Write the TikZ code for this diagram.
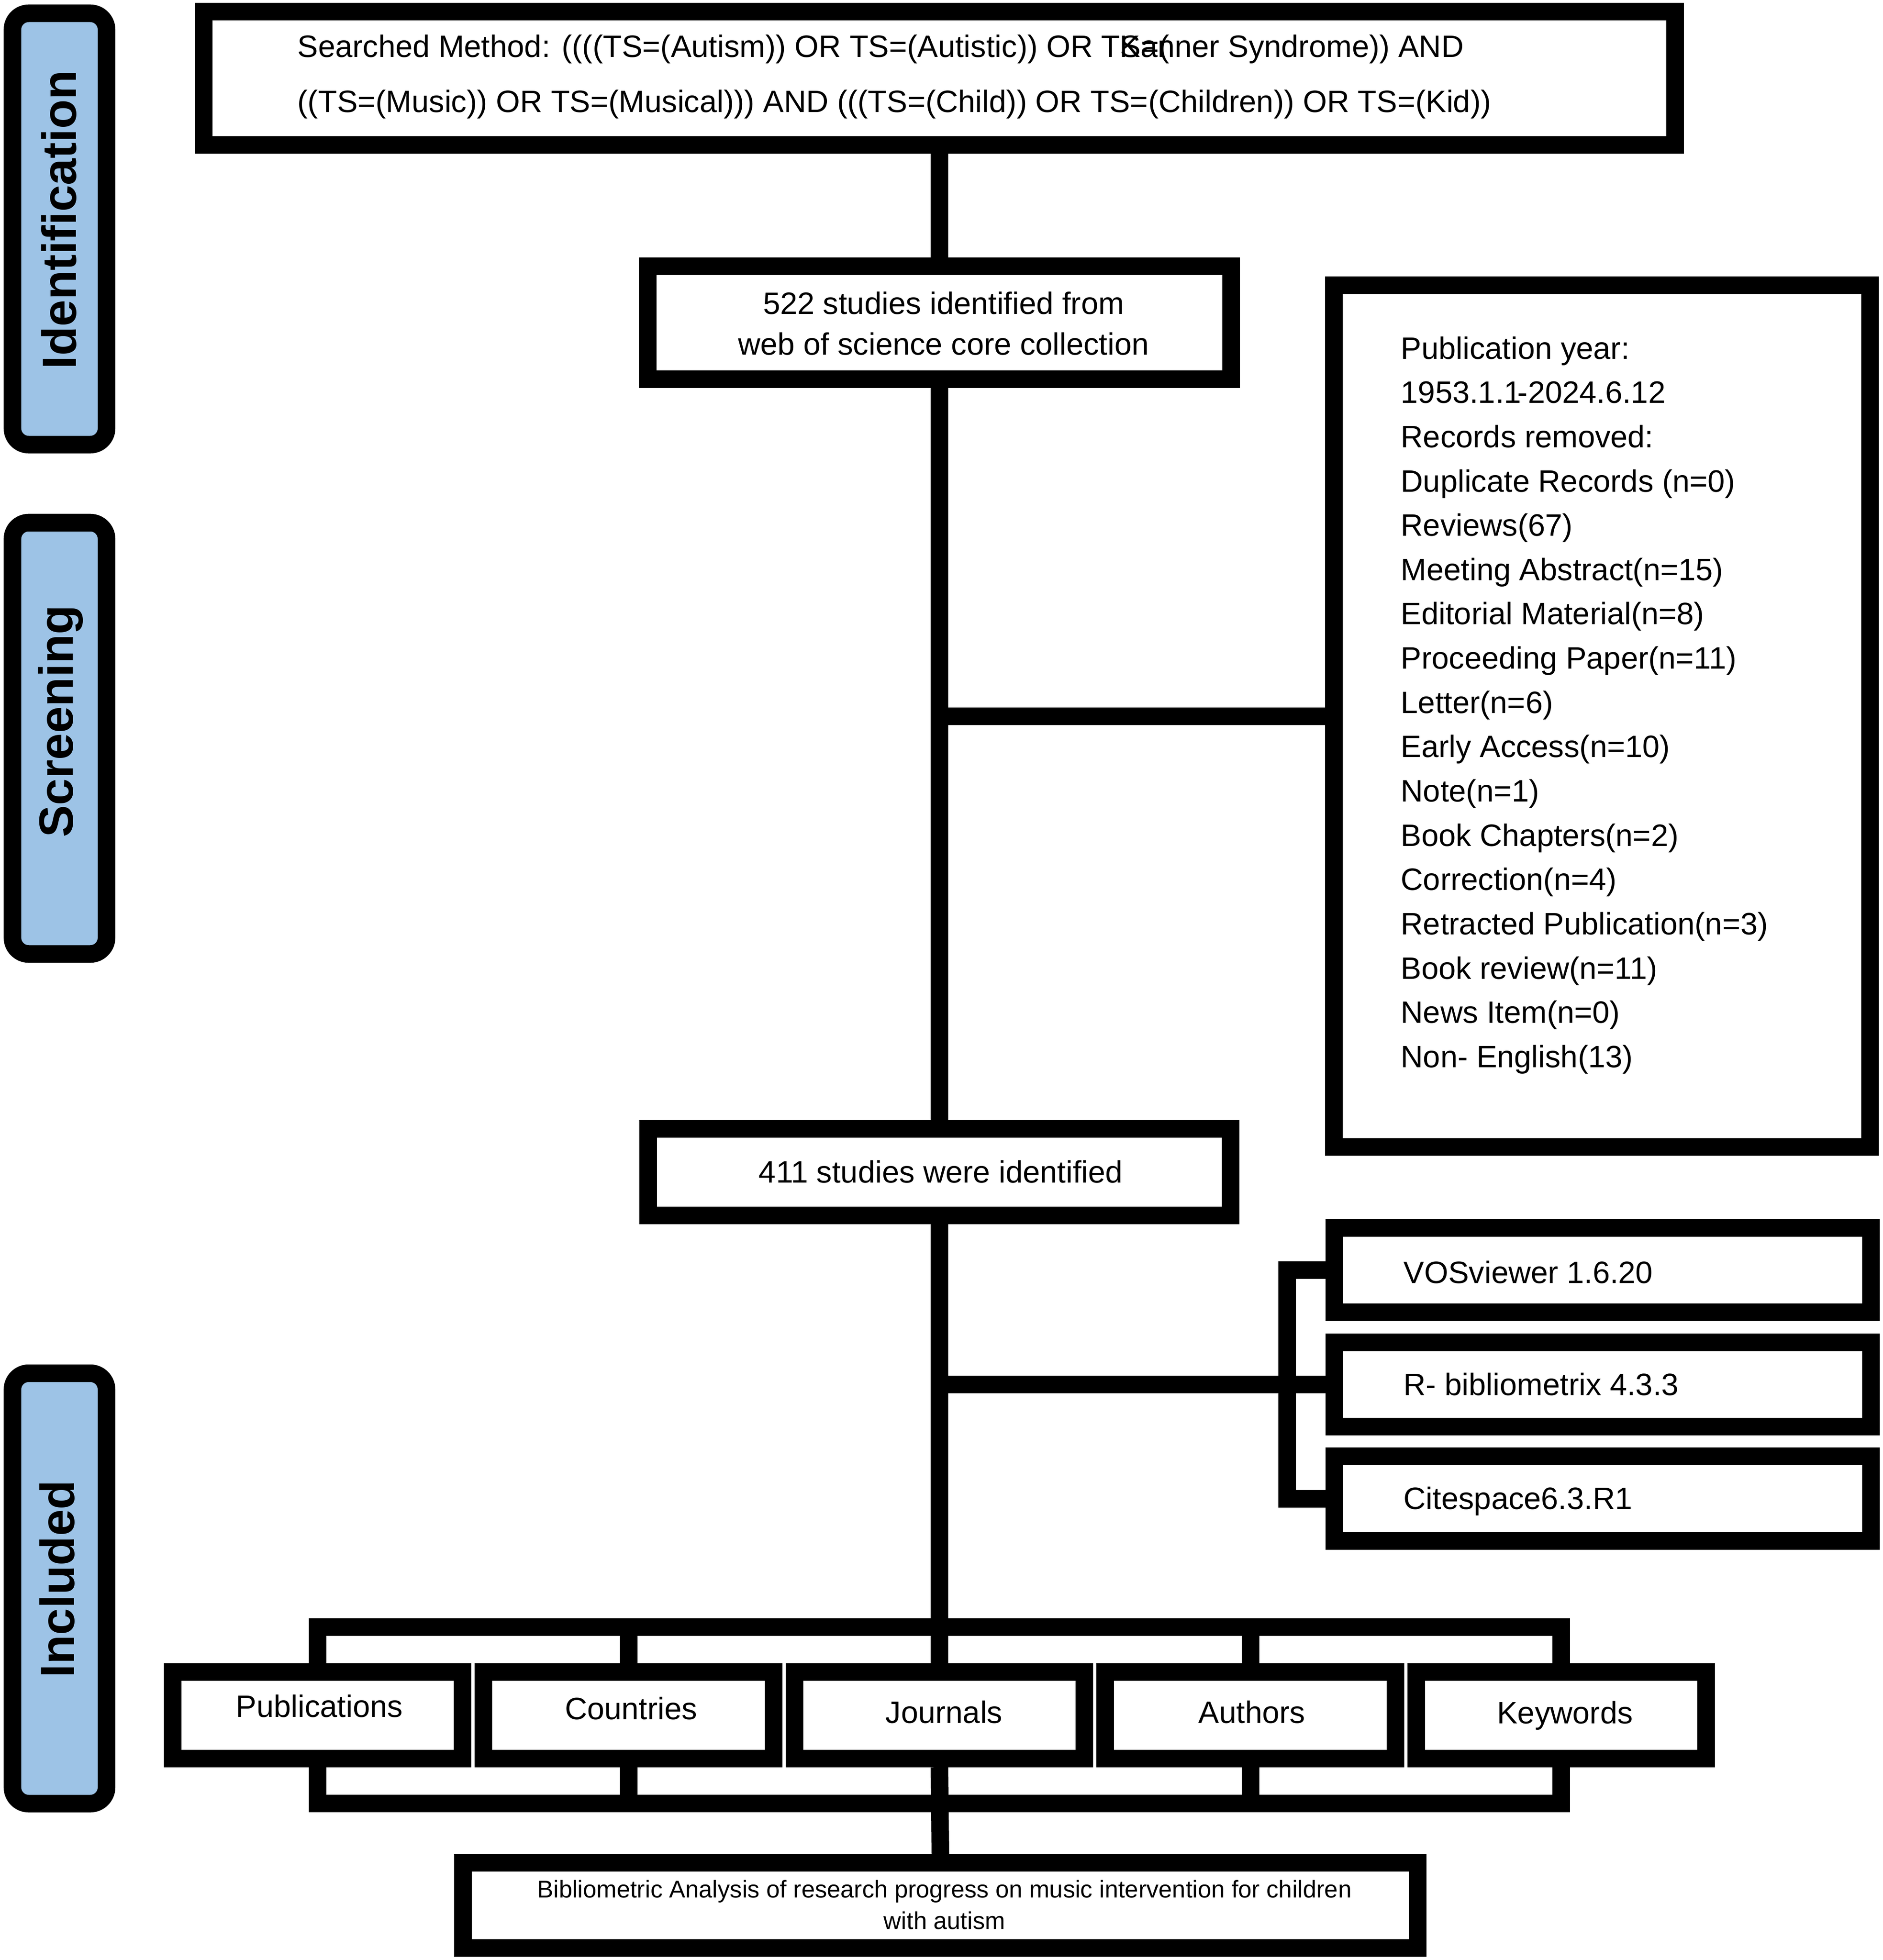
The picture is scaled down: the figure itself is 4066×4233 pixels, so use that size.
\documentclass[tikz,border=0pt]{standalone}
\usepackage{fontspec}
\setmainfont{Liberation Sans}
\definecolor{sideblue}{RGB}{157,195,230}
\begin{document}
\begin{tikzpicture}[x=0.01cm,y=-0.01cm,
  box/.style={draw=black, line width=0.38cm, fill=white, inner sep=0pt, rectangle},
  side/.style={draw=black, line width=0.38cm, fill=sideblue, rounded corners=0.35cm, inner sep=0pt, rectangle},
  conn/.style={draw=black, line width=0.38cm},
  txt/.style={inner sep=0pt, font=\fontsize{19}{25}\selectfont},
  sidetxt/.style={rotate=90, inner sep=0pt, font=\fontsize{29.5}{32}\selectfont\bfseries}
]
\useasboundingbox (0,0) rectangle (4066,4233);

% side stage boxes
\node[side, minimum width=2.03cm, minimum height=9.31cm] (idbox) at (128.5,494.5) {};
\node[side, minimum width=2.03cm, minimum height=9.31cm] (scbox) at (128.5,1594.5) {};
\node[side, minimum width=2.03cm, minimum height=9.29cm] (inbox) at (128.5,3430.5) {};
\node[sidetxt] (idtxt) at (127,475) {Identification};
\node[sidetxt] (sctxt) at (131,1558) {Screening};
\node[sidetxt] (intxt) at (123,3410) {Included};

% main boxes
\node[box, minimum width=31.77cm, minimum height=2.88cm] (search) at (2029,169) {};
\node[box, minimum width=12.59cm, minimum height=2.44cm] (s522) at (2029,697) {};
\node[box, minimum width=12.57cm, minimum height=1.87cm] (s411) at (2029,2531.5) {};
\node[box, minimum width=11.58cm, minimum height=18.59cm] (list) at (3460,1546.5) {};
\node[box, minimum width=11.59cm, minimum height=1.82cm] (vos) at (3461.5,2743) {};
\node[box, minimum width=11.59cm, minimum height=1.82cm] (rbib) at (3461.5,2990) {};
\node[box, minimum width=11.59cm, minimum height=1.82cm] (cite) at (3461.5,3236.5) {};
\node[box, minimum width=6.26cm, minimum height=1.87cm] (pub) at (686,3704.5) {};
\node[box, minimum width=6.26cm, minimum height=1.87cm] (cou) at (1357.5,3704.5) {};
\node[box, minimum width=6.26cm, minimum height=1.87cm] (jou) at (2029,3704.5) {};
\node[box, minimum width=6.26cm, minimum height=1.87cm] (aut) at (2700.5,3704.5) {};
\node[box, minimum width=6.26cm, minimum height=1.87cm] (key) at (3372,3704.5) {};
\node[box, minimum width=20.60cm, minimum height=1.84cm] (final) at (2031,4115) {};

% texts
\node[txt, anchor=west, align=left, font=\fontsize{19}{33.8}\selectfont] (searchtxt) at (642,166)
  {Searched Method: ((((TS=(Autism)) OR TS=(Autistic)) OR TS=(\kern-1.6emKanner Syndrome)) AND\\((TS=(Music)) OR TS=(Musical))) AND (((TS=(Child)) OR TS=(Children)) OR TS=(Kid))};
\node[txt, align=center] (t522) at (2038,699) {522 studies identified from\\web of science core collection};
\node[txt] (t411) at (2032,2531) {411 studies were identified};
\node[txt, anchor=west, align=left, font=\fontsize{19}{27.2}\selectfont] (tlist) at (3025,1523)
  {Publication year:\\
   1953.1.1\kern-0.12em-2024.6.12\\
   Records removed:\\
   Duplicate Records (n=0)\\
   Reviews(67)\\
   Meeting Abstract(n=15)\\
   Editorial Material(n=8)\\
   Proceeding Paper(n=11)\\
   Letter(n=6)\\
   Early Access(n=10)\\
   Note(n=1)\\
   Book Chapters(n=2)\\
   Correction(n=4)\\
   Retracted Publication(n=3)\\
   Book review(n=11)\\
   News Item(n=0)\\
   Non- English(13)};
\node[txt, anchor=west] (tvos) at (3031,2748) {VOSviewer 1.6.20};
\node[txt, anchor=west] (trbib) at (3031,2990) {R- bibliometrix 4.3.3};
\node[txt, anchor=west] (tcite) at (3031,3242) {Citespace6.3.R1};
\node[txt] (tpub) at (690,3685) {Publications};
\node[txt] (tcou) at (1363,3690) {Countries};
\node[txt] (tjou) at (2039,3698) {Journals};
\node[txt] (taut) at (2704,3698) {Authors};
\node[txt] (tkey) at (3380,3705) {Keywords};
\node[txt, align=center, font=\fontsize{14.9}{19.3}\selectfont] (tfinal) at (2040,4114)
  {Bibliometric Analysis of research progress on music intervention for children\\with autism};

% connectors
\coordinate (mx) at (2029,0);
\coordinate (bk) at (2780,0);
\coordinate (tb) at (0,3514);
\coordinate (bb) at (0,3895);
\draw[conn] (search.south) -- (s522.north);
\draw[conn] (s522.south) -- (s411.north);
\draw[conn] (s411.south) -- (jou.north);
\draw[conn] (list.west -| mx) -- (list.west);
\draw[conn] (rbib.west -| mx) -- (rbib.west);
\draw[conn] (vos.west) -- (vos.west -| bk) -- (cite.west -| bk) -- (cite.west);
\draw[conn] (pub.north) -- (pub.north |- tb) -- (key.north |- tb) -- (key.north);
\draw[conn] (cou.north) -- (cou.north |- tb);
\draw[conn] (aut.north) -- (aut.north |- tb);
\draw[conn] (pub.south) -- (pub.south |- bb) -- (key.south |- bb) -- (key.south);
\draw[conn] (cou.south) -- (cou.south |- bb);
\draw[conn] (aut.south) -- (aut.south |- bb);
\draw[conn] (jou.south) -- (final.north);
\end{tikzpicture}
\end{document}
